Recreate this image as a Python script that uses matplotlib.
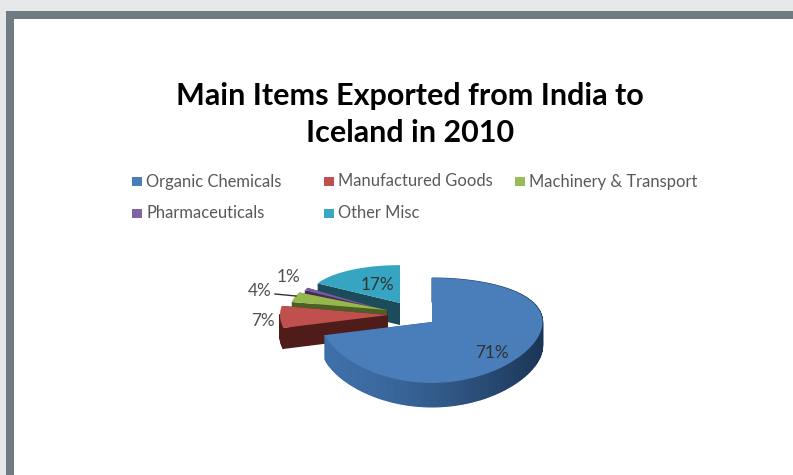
import numpy as np
import matplotlib
matplotlib.use("Agg")
import matplotlib.pyplot as plt
from matplotlib.colors import to_rgb
from matplotlib.patches import Polygon, Rectangle

plt.rcParams['font.family'] = ['Lato', 'DejaVu Sans']

# Data
title = "Main Items Exported from India to\nIceland in 2010"
items = ["Organic Chemicals", "Manufactured Goods", "Machinery & Transport", "Pharmaceuticals", "Other Misc"]
shares = [71, 7, 4, 1, 17]

# Styles
top_colors = ["#4a7ebb", "#c0504d", "#96b74e", "#7a5a9e", "#35a5c1"]
side_colors = ["#2f5a8e", "#4f1c1a", "#4c5f24", "#3f2d56", "#1c4c5b"]
legend_colors = ["#4a7ebb", "#c0504d", "#9bbb59", "#8064a2", "#37a7c4"]

# Layout of each exploded slice (pixels): apex x, apex y, x radius, y radius
slice_geom = [(432, 322, 110.5, 51), (388, 315, 108, 50), (387, 310, 97, 44),
              (388, 311, 92, 52), (400, 303, 94, 44)]
depths = [24, 21, 8, 5, 22]
persp = 0.162

fig = plt.figure(figsize=(7.93, 4.75), dpi=100)
ax = fig.add_axes([0, 0, 1, 1])
ax.set_xlim(0, 793)
ax.set_ylim(475, 0)
ax.axis("off")

# Slide frame
ax.add_patch(Rectangle((0, 0), 793, 475, color="#e6e7e8", lw=0))
ax.add_patch(Rectangle((6, 11), 787, 464, color="#6f7b82", lw=0))
ax.add_patch(Rectangle((13.5, 18.5), 780, 457, color="white", lw=0))

# Title
ax.text(410, 114.5, title, ha="center", va="center", fontsize=22, fontweight="bold",
        color="black", linespacing=1.42)

# Legend
legend_x = [132, 324, 515, 132, 324]
legend_y = [181, 181, 181, 213, 213]
for name, col, lx, ly in zip(items, legend_colors, legend_x, legend_y):
    ax.add_patch(Rectangle((lx, ly - 4.5), 9.5, 9.5, color=col, lw=0))
    ax.text(lx + 14, ly + 5.5, name, ha="left", va="baseline", fontsize=11.9, color="#595959")


def arc(start, end, geom):
    # project an arc of the pie (fractions, clockwise from 12 o'clock) to pixels
    x0, y0, rx, ry = geom
    t = np.linspace(start, end, max(int((end - start) * 240), 3)) * 2 * np.pi
    s = -np.cos(t)
    return x0 + rx * np.sin(t), y0 + ry * s / (1 - persp * s)


edges = np.cumsum([0] + shares) / sum(shares)


def draw_slice(i):
    geom = slice_geom[i]
    d = depths[i]
    x, y = arc(edges[i], edges[i + 1], geom)
    apex = (geom[0], geom[1])
    # cut faces
    for px, py in [(x[0], y[0]), (x[-1], y[-1])]:
        ax.add_patch(Polygon([apex, (px, py), (px, py + d), (apex[0], apex[1] + d)],
                             closed=True, color=side_colors[i], lw=0))
    # outer wall, the blue one gets darker to the right
    for j in range(len(x) - 1):
        if y[j] < geom[1] and y[j + 1] < geom[1] and i != 0:
            continue
        col = side_colors[i]
        if i == 0:
            f = np.clip((x[j] - 330) / 210, 0, 1) ** 1.5
            col = np.array(to_rgb("#3f6fa8")) * (1 - f) + np.array(to_rgb("#1b3657")) * f
        ax.add_patch(Polygon([(x[j], y[j]), (x[j + 1], y[j + 1]),
                              (x[j + 1], y[j + 1] + d), (x[j], y[j] + d)],
                             closed=True, facecolor=col, edgecolor=col, lw=0.9))
    # top face
    ax.add_patch(Polygon(np.column_stack([np.r_[apex[0], x], np.r_[apex[1], y]]),
                         closed=True, color=top_colors[i], lw=0))


# back to front
for i in [4, 3, 2, 1, 0]:
    draw_slice(i)

# Percent labels
label_x = [492, 263, 260, 288, 377]
label_y = [352.5, 321.5, 291.5, 277.5, 284.5]
label_cols = ["#333333", "#505050", "#505050", "#505050", "#333333"]
for v, lx, ly, c in zip(shares, label_x, label_y, label_cols):
    ax.text(lx, ly, f"{v}%", ha="center", va="center", fontsize=12.3, color=c)
ax.plot([275, 296], [294, 296], color="#333333", lw=1)

plt.savefig("out.png", dpi=100)
plt.close()
